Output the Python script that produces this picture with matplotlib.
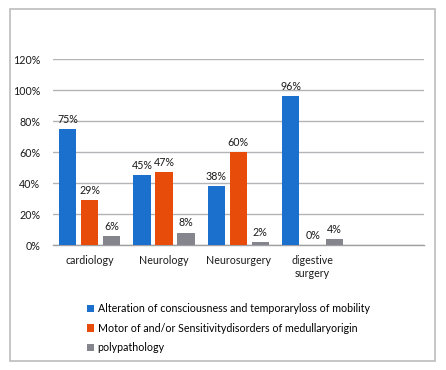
import matplotlib
matplotlib.use("Agg")
import matplotlib.pyplot as plt
import numpy as np
from matplotlib.patches import Rectangle

categories = ["cardiology", "Neurology", "Neurosurgery", "digestive\nsurgery"]
series_names = [
    "Alteration of consciousness and temporaryloss of mobility",
    "Motor of and/or Sensitivitydisorders of medullaryorigin",
    "polypathology",
]
alteration = [75, 45, 38, 96]
motor = [29, 47, 60, 0]
polypathology = [6, 8, 2, 4]
y_ticks = [0, 20, 40, 60, 80, 100, 120]

colors = ["#1a70cc", "#e84c0a", "#85858d"]

plt.rcParams['font.family'] = ['Lato', 'DejaVu Sans']
fig = plt.figure(figsize=(4.46, 3.70), dpi=100)
ax = fig.add_axes([0.118, 0.3378, 0.833, 0.502])

x = np.arange(len(categories))
step = 0.296
width = 0.234
all_series = [alteration, motor, polypathology]
for i, (vals, name, c) in enumerate(zip(all_series, series_names, colors)):
    pos = x + (i - 1) * step
    bars = ax.bar(pos, np.array(vals) / 100.0, width, color=c, label=name, zorder=3)
    for xp, v in zip(pos, vals):
        ax.annotate(f"{v}%", (xp, v / 100.0), xytext=(0, 3), textcoords="offset points",
                    ha="center", va="bottom", fontsize=7.7, color="#1a1a1a")

ax.set_xlim(-0.5, 4.5)
ax.set_ylim(0, 1.2)
ax.set_yticks([t / 100 for t in y_ticks])
ax.set_yticklabels([f"{t}%" for t in y_ticks])
ax.set_xticks(x)
ax.set_xticklabels(categories)
ax.tick_params(axis="both", length=0, labelsize=7.7, colors="#1a1a1a")
ax.tick_params(axis="y", pad=9)
ax.tick_params(axis="x", pad=7)
ax.grid(axis="y", color="#b4b4b8", linewidth=1.0, zorder=0)
for s in ["top", "right", "left"]:
    ax.spines[s].set_visible(False)
ax.spines["bottom"].set_color("#a0a0a4")
ax.spines["bottom"].set_linewidth(1.0)

fig.legend(loc="upper left", bbox_to_anchor=(0.195, 0.181), frameon=False,
           fontsize=7.7, handlelength=0.7, handleheight=0.7, handletextpad=0.3,
           labelspacing=0.8, borderaxespad=0, borderpad=0)

fig.patches.append(Rectangle((10 / 446, 1 - 360.5 / 370), 425 / 446, 351.5 / 370,
                             transform=fig.transFigure, fill=False,
                             edgecolor="#bcbcbc", linewidth=1.2))

fig.savefig("out.png", dpi=100)
